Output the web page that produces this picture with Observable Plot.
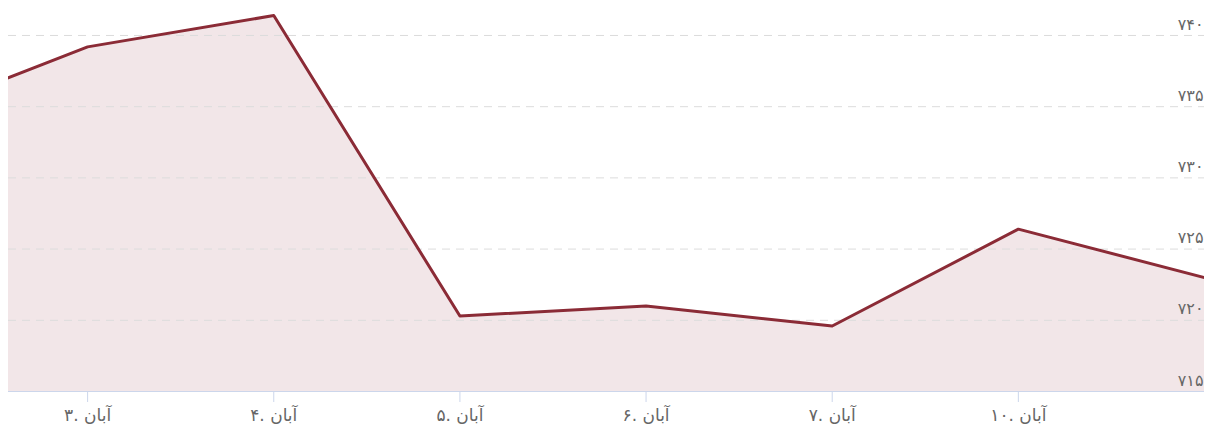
<!DOCTYPE html>
<html>
<head>
<meta charset="utf-8">
<script src="https://cdn.jsdelivr.net/npm/d3@7"></script>
<script src="https://cdn.jsdelivr.net/npm/@observablehq/plot@0.6"></script>
<style>
  html, body { margin: 0; padding: 0; background: #fff; }
  #chart svg { display: block; }
  .ylab text { letter-spacing: 2.5px; }
</style>
</head>
<body>
<div id="chart"></div>
<script>
// Ordinal trading-day positions (0 = the day before "۳. آبان", partially visible)
const dayIndex = [0, 1, 2, 3, 4, 5, 6, 7];
const dayLabels = ["۲. آبان", "۳. آبان", "۴. آبان", "۵. آبان", "۶. آبان", "۷. آبان", "۱۰. آبان", "۱۱. آبان"];
const values = [734.1, 739.2, 741.4, 720.3, 721.0, 719.6, 726.4, 723.0];
const tickIndex = [1, 2, 3, 4, 5, 6];
const yTicks = [715, 720, 725, 730, 735, 740];
const gridTicks = [720, 725, 730, 735, 740];

const faDigits = "۰۱۲۳۴۵۶۷۸۹";
const toFa = n => String(n).replace(/[0-9]/g, d => faDigits[+d]);

const data = dayIndex.map((i, k) => ({i, label: dayLabels[k], v: values[k]}));

const font = "'DejaVu Sans', sans-serif";

const chart = Plot.plot({
  width: 1206,
  height: 428,
  marginLeft: 8,
  marginRight: 2,
  marginTop: 6.5,
  marginBottom: 37,
  style: {fontFamily: font, fontSize: "17px", color: "#666", background: "#fff"},
  x: {domain: [0.575, 7]},
  y: {domain: [715, 742], axis: null},
  marks: [
    Plot.areaY(data, {x: "i", y1: () => 715, y2: "v", fill: "#f2e6e8", clip: true}),
    Plot.ruleY(gridTicks, {stroke: "#dcdcdc", strokeWidth: 1, strokeDasharray: "8,6"}),
    Plot.lineY(data, {x: "i", y: "v", stroke: "#8b2b36", strokeWidth: 3, clip: true}),
    Plot.ruleY([715], {stroke: "#ccd6eb", strokeWidth: 1}),
    Plot.axisX(tickIndex, {
      anchor: "bottom",
      tickSize: 11,
      tickPadding: 6,
      tickFormat: d => dayLabels[d],
      stroke: "#ccd6eb",
      fill: "#666",
      fontSize: 17,
      label: null
    }),
    Plot.text(yTicks, {
      y: d => d,
      frameAnchor: "right",
      text: d => toFa(d),
      textAnchor: "end",
      dx: -1,
      dy: -11,
      fill: "#666",
      fontSize: 16,
      className: "ylab"
    })
  ]
});

document.getElementById("chart").appendChild(chart);
</script>
</body>
</html>
